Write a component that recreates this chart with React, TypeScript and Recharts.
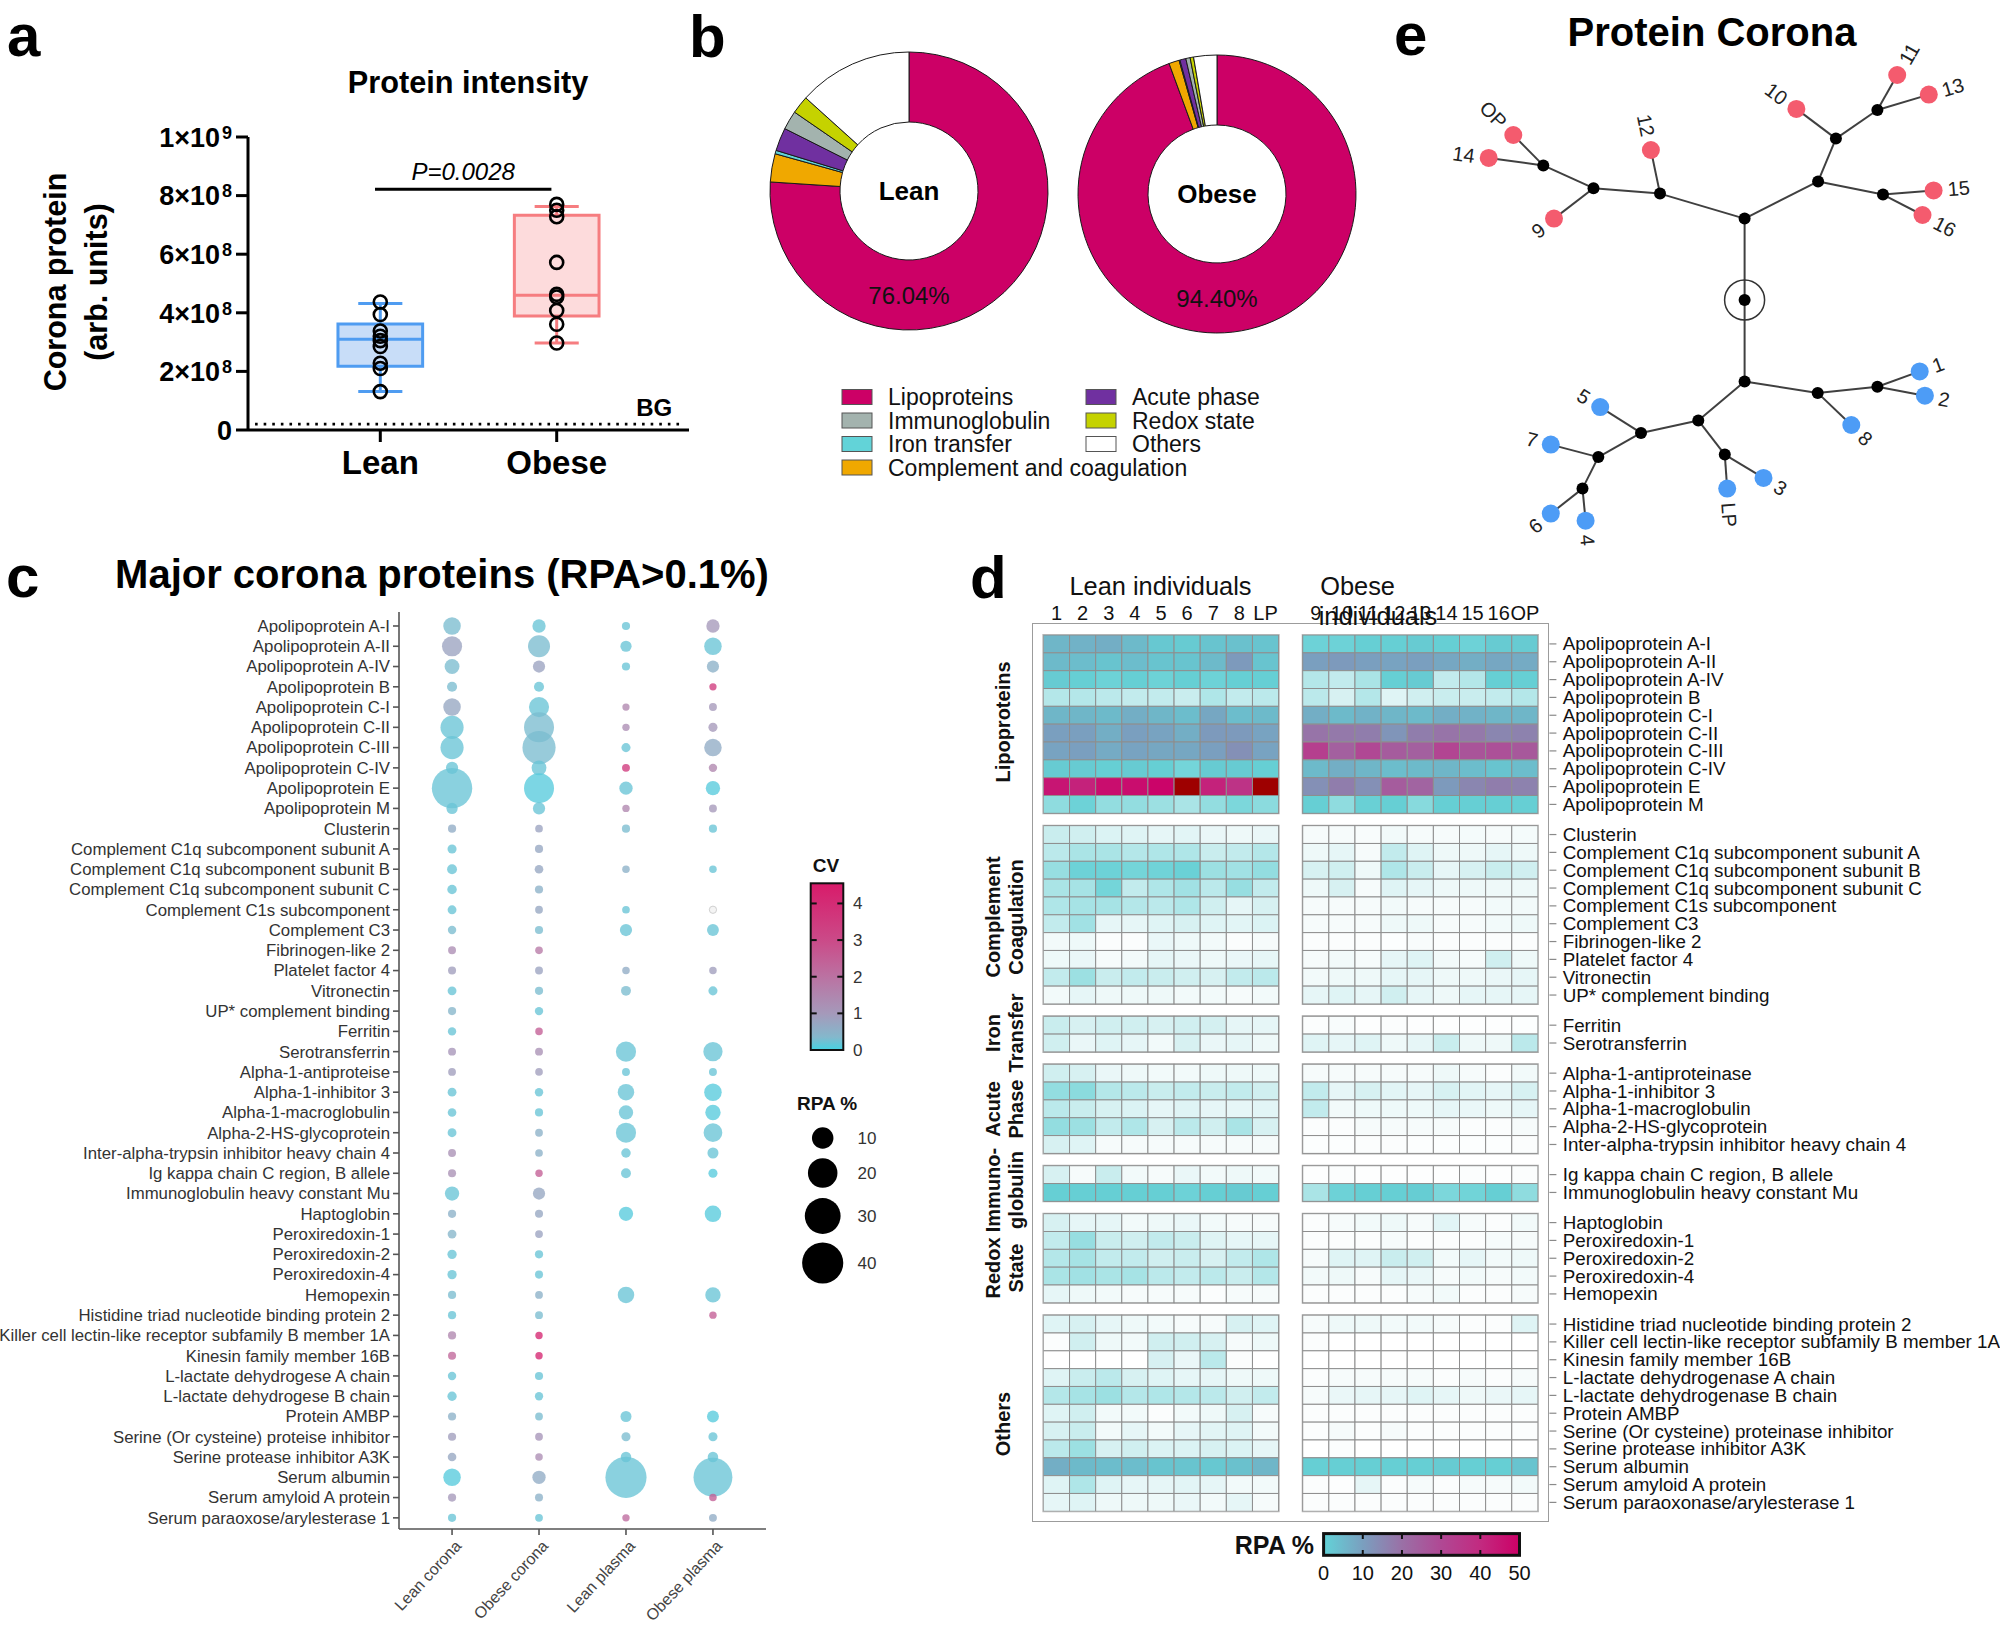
import React from "react";
import {
  ComposedChart,
  ScatterChart,
  Scatter,
  PieChart,
  Pie,
  Cell,
  Label,
  XAxis,
  YAxis,
  ZAxis,
  ReferenceArea,
  ReferenceLine,
  ReferenceDot,
} from "recharts";

const FONT = "'Liberation Sans', Arial, Helvetica, sans-serif";

// ---------- a: protein intensity (units of 1e8) ----------
const groups = ["Lean", "Obese"];
const leanIntensity = [4.37, 3.94, 3.38, 3.2, 3.05, 2.85, 2.28, 2.1, 1.31];
const obeseIntensity = [7.7, 7.5, 7.28, 5.72, 4.63, 4.54, 4.08, 3.61, 2.97];
const whiskerLow = [1.31, 2.97];
const quartileLow = [2.18, 3.89];
const medians = [3.1, 4.6];
const quartileHigh = [3.62, 7.33];
const whiskerHigh = [4.32, 7.63];
const intensityTicks = [0, 2, 4, 6, 8, 10];
const bracketLevel = 8.22;
const backgroundLevel = 0.2;
const pValueText = "P=0.0028";
const boxFills = ["#c8ddf8", "#fddbdc"];
const boxStrokes = ["#4f9cf1", "#f67d80"];

// ---------- b: protein classes ----------
const classes = ["Lipoproteins", "Complement and coagulation", "Iron transfer", "Acute phase", "Immunoglobulin", "Redox state", "Others"];
const classColors = ["#cc0066", "#f0a800", "#62d3d8", "#7030a0", "#a3b3ae", "#c5d200", "#ffffff"];
const leanShares = [76.04, 3.28, 0.4, 2.69, 2.19, 2.08, 13.32];
const obeseShares = [94.4, 1.2, 0.1, 0.7, 0.5, 0.4, 2.7];
const legendLeft = [0, 4, 2, 1];
const legendRight = [3, 5, 6];

// ---------- c: major corona proteins ----------
const proteinNames = [
  "Apolipoprotein A-I", "Apolipoprotein A-II", "Apolipoprotein A-IV", "Apolipoprotein B", "Apolipoprotein C-I",
  "Apolipoprotein C-II", "Apolipoprotein C-III", "Apolipoprotein C-IV", "Apolipoprotein E", "Apolipoprotein M",
  "Clusterin", "Complement C1q subcomponent subunit A", "Complement C1q subcomponent subunit B",
  "Complement C1q subcomponent subunit C", "Complement C1s subcomponent", "Complement C3", "Fibrinogen-like 2",
  "Platelet factor 4", "Vitronectin", "UP* complement binding", "Ferritin", "Serotransferrin", "Alpha-1-antiproteise",
  "Alpha-1-inhibitor 3", "Alpha-1-macroglobulin", "Alpha-2-HS-glycoprotein", "Inter-alpha-trypsin inhibitor heavy chain 4",
  "Ig kappa chain C region, B allele", "Immunoglobulin heavy constant Mu", "Haptoglobin", "Peroxiredoxin-1",
  "Peroxiredoxin-2", "Peroxiredoxin-4", "Hemopexin", "Histidine triad nucleotide binding protein 2",
  "Killer cell lectin-like receptor subfamily B member 1A", "Kinesin family member 16B", "L-lactate dehydrogese A chain",
  "L-lactate dehydrogese B chain", "Protein AMBP", "Serine (Or cysteine) proteise inhibitor", "Serine protease inhibitor A3K",
  "Serum albumin", "Serum amyloid A protein", "Serum paraoxose/arylesterase 1",
];
const sampleNames = ["Lean corona", "Obese corona", "Lean plasma", "Obese plasma"];
const rpaLeanCorona = [6.5, 9, 4.3, 1.3, 6.5, 12.3, 12.3, 2.5, 40, 1.9, 0.4, 0.8, 1.2, 1.0, 0.7, 0.5, 0.3, 0.35, 0.7, 0.4, 0.5, 0.3, 0.25, 0.7, 0.6, 0.7, 0.3, 0.35, 3.9, 0.4, 0.7, 0.9, 0.9, 0.4, 0.4, 0.4, 0.35, 0.5, 0.9, 0.4, 0.4, 0.6, 6.5, 0.4, 0.4];
const cvLeanCorona = [0.3, 0.8, 0.3, 0.3, 0.7, 0.2, 0.2, 0.2, 0.2, 0.2, 0.6, 0.2, 0.2, 0.2, 0.2, 0.3, 1.3, 0.9, 0.2, 0.4, 0.2, 1.1, 0.9, 0.2, 0.2, 0.2, 1.2, 1.2, 0.2, 0.5, 0.4, 0.2, 0.2, 0.3, 0.2, 1.5, 2.3, 0.2, 0.2, 0.5, 0.9, 0.7, 0.1, 1.0, 0.2];
const rpaObeseCorona = [3.2, 11, 2.5, 1.3, 9, 21.5, 26.6, 4.3, 21.5, 2.5, 0.2, 0.4, 0.6, 0.4, 0.25, 0.4, 0.2, 0.3, 0.4, 0.5, 0.15, 0.3, 0.2, 0.5, 0.4, 0.25, 0.2, 0.1, 2.5, 0.35, 0.25, 0.4, 0.35, 0.25, 0.3, 0.1, 0.1, 0.4, 0.45, 0.25, 0.25, 0.15, 3.2, 0.35, 0.25];
const cvObeseCorona = [0.2, 0.3, 0.8, 0.2, 0.2, 0.3, 0.3, 0.2, 0.1, 0.2, 0.8, 0.7, 0.7, 0.5, 0.7, 0.3, 1.8, 0.8, 0.3, 0.2, 2.5, 1.2, 0.9, 0.2, 0.2, 0.5, 0.5, 2.5, 0.7, 0.7, 0.8, 0.2, 0.2, 0.5, 0.3, 4.2, 4.2, 0.2, 0.2, 0.3, 1.1, 1.3, 0.6, 0.5, 0.2];
const rpaLeanPlasma = [0.4, 1.9, 0.4, null, 0.05, 0.1, 0.8, 0.3, 3.2, 0.1, 0.4, null, 0.15, null, 0.2, 2.5, null, 0.15, 1.2, null, null, 9, 0.3, 5.6, 3.9, 9, 1.0, 1.2, null, 3.9, null, null, null, 5.6, null, null, null, null, null, 1.8, 0.8, 1.5, 41.6, null, 0.1];
const cvLeanPlasma = [0.2, 0.2, 0.2, null, 1.5, 1.3, 0.2, 3.6, 0.2, 1.5, 0.3, null, 0.5, null, 0.2, 0.2, null, 0.6, 0.3, null, null, 0.2, 0.2, 0.2, 0.2, 0.2, 0.2, 0.2, null, 0.1, null, null, null, 0.2, null, null, null, null, null, 0.2, 0.3, 0.2, 0.2, null, 2.2];
const rpaObesePlasma = [3.2, 6.5, 2.5, 0.05, 0.3, 0.8, 6.5, 0.5, 3.9, 0.3, 0.4, null, 0.15, null, 0.05, 2.3, null, 0.15, 0.8, null, null, 8.1, 0.3, 6.5, 4.7, 7.6, 1.8, 0.8, null, 5.6, null, null, null, 4.7, 0.1, null, null, null, null, 2.3, 0.8, 1.5, 37, 0.15, 0.3];
const cvObesePlasma = [1.0, 0.2, 0.5, 3.5, 1.0, 1.0, 0.6, 1.5, 0.1, 1.0, 0.2, null, 0.2, null, null, 0.2, null, 0.9, 0.2, null, null, 0.2, 0.2, 0.1, 0.1, 0.2, 0.2, 0.1, null, 0.1, null, null, null, 0.2, 2.5, null, null, null, null, 0.1, 0.2, 0.2, 0.2, 2.5, 0.6];
const cvTicks = [0, 1, 2, 3, 4];
const rpaSizeTicks = [10, 20, 30, 40];
const cvStops: [number, string][] = [[0, "#45d3e3"], [0.35, "#84b8cc"], [1, "#a599ba"], [2, "#bb72a2"], [3, "#cb4a88"], [4.55, "#d81b6a"]];

// ---------- d: heatmap (9 lean columns then 9 obese columns) ----------
const leanColumns = ["1", "2", "3", "4", "5", "6", "7", "8", "LP"];
const obeseColumns = ["9", "10", "11", "12", "13", "14", "15", "16", "OP"];
const lipoNames = ["Apolipoprotein A-I", "Apolipoprotein A-II", "Apolipoprotein A-IV", "Apolipoprotein B", "Apolipoprotein C-I", "Apolipoprotein C-II", "Apolipoprotein C-III", "Apolipoprotein C-IV", "Apolipoprotein E", "Apolipoprotein M"];
const lipoRpa = [
  [7, 7.5, 8, 6.5, 4.5, 4, 5, 5.5, 5, 3, 3, 3.5, 3.5, 4, 3.5, 3, 4, 4],
  [6.5, 6, 5, 6, 5, 5, 6.5, 11, 5, 10, 11, 10, 9.5, 10, 9, 8, 9, 8.5],
  [4, 3.5, 3, 3.5, 3, 3.5, 3, 3.5, 3.5, 1, 0.8, 1.2, 3.5, 4, 0.8, 1, 3.5, 3.5],
  [1, 1, 0.9, 0.8, 0.8, 0.7, 1.1, 0.8, 0.9, 0.9, 0.5, 1, 0.4, 0.6, 0.7, 0.7, 0.8, 1],
  [7, 7, 6.5, 8, 7, 6, 9, 6, 6.5, 8, 6.5, 7.5, 7, 6.5, 8, 7.5, 7, 7],
  [10, 10, 8, 10, 9.5, 8, 11, 11, 9.5, 19, 18, 17, 12, 17, 19, 18, 15, 16],
  [9.5, 10, 8.5, 9.5, 9, 9, 10, 13, 9.5, 33, 24, 30, 25, 24, 31, 27, 28, 26],
  [4, 4, 3.5, 4, 3.5, 2.5, 4, 4, 3.5, 6.5, 8, 7, 6, 6.5, 7, 6, 5, 6],
  [45, 42, 47, 47, 49, 55, 42, 37, 55, 13, 17, 13, 25, 23, 11, 15, 17, 16],
  [1.8, 3, 1.7, 1.7, 1.5, 1.2, 1.7, 2.3, 1.9, 3.5, 1.8, 3.3, 3.5, 2, 3.5, 3.5, 3.5, 3.5],
];
const complementNames = ["Clusterin", "Complement C1q subcomponent subunit A", "Complement C1q subcomponent subunit B", "Complement C1q subcomponent subunit C", "Complement C1s subcomponent", "Complement C3", "Fibrinogen-like 2", "Platelet factor 4", "Vitronectin", "UP* complement binding"];
const complementRpa = [
  [0.7, 0.6, 0.45, 0.4, 0.3, 0.35, 0.25, 0.2, 0.25, 0.1, 0.1, 0.08, 0.15, 0.1, 0.1, 0.12, 0.1, 0.12],
  [0.9, 1.2, 1.2, 1.0, 1.1, 1.1, 0.7, 0.8, 1.0, 0.2, 0.3, 0.1, 0.8, 0.4, 0.2, 0.2, 0.3, 0.2],
  [1.6, 3, 3, 2.5, 2.8, 3.2, 1.5, 1.4, 1.7, 0.5, 0.6, 0.2, 1.1, 0.7, 0.3, 0.5, 0.7, 0.6],
  [1.2, 1.3, 2.5, 0.8, 1.1, 1.4, 0.9, 1.6, 0.8, 0.2, 0.5, 0.1, 0.4, 0.3, 0.2, 0.2, 0.2, 0.2],
  [1.1, 1.3, 1.3, 1.0, 0.9, 1.1, 0.6, 0.3, 0.5, 0.1, 0.1, 0.1, 0.15, 0.1, 0.1, 0.1, 0.15, 0.15],
  [0.8, 1.4, 0.3, 0.3, 0.4, 0.5, 0.4, 0.35, 0.45, 0.1, 0.1, 0.1, 0.2, 0.2, 0.1, 0.1, 0.15, 0.2],
  [0.15, 0.2, 0.05, 0.05, 0.25, 0.2, 0.15, 0.05, 0.1, 0.05, 0.05, 0.05, 0.03, 0.08, 0.05, 0.05, 0.05, 0.05],
  [0.2, 0.25, 0.1, 0.15, 0.3, 0.25, 0.2, 0.25, 0.3, 0.1, 0.15, 0.1, 0.3, 0.4, 0.15, 0.1, 0.6, 0.2],
  [0.8, 1.5, 0.7, 0.8, 0.7, 0.6, 0.5, 0.8, 0.9, 0.15, 0.2, 0.2, 0.3, 0.3, 0.2, 0.2, 0.25, 0.3],
  [0.15, 0.3, 0.2, 0.2, 0.2, 0.15, 0.15, 0.1, 0.15, 0.3, 0.4, 0.3, 0.6, 0.3, 0.2, 0.3, 0.3, 0.3],
];
const ironNames = ["Ferritin", "Serotransferrin"];
const ironRpa = [
  [0.7, 0.5, 0.6, 0.6, 0.5, 0.6, 0.55, 0.3, 0.3, 0.05, 0.08, 0.02, 0.05, 0.02, 0.02, 0.02, 0.02, 0.03],
  [0.6, 0.25, 0.4, 0.3, 0.15, 0.5, 0.25, 0.3, 0.2, 0.4, 0.3, 0.4, 0.2, 0.3, 0.7, 0.2, 0.2, 0.9],
];
const acuteNames = ["Alpha-1-antiproteinase", "Alpha-1-inhibitor 3", "Alpha-1-macroglobulin", "Alpha-2-HS-glycoprotein", "Inter-alpha-trypsin inhibitor heavy chain 4"];
const acuteRpa = [
  [0.6, 0.5, 0.25, 0.2, 0.15, 0.15, 0.2, 0.2, 0.2, 0.1, 0.1, 0.1, 0.1, 0.1, 0.2, 0.1, 0.05, 0.15],
  [1.7, 1.9, 1.0, 0.9, 0.7, 0.8, 0.7, 0.8, 0.6, 0.8, 0.3, 0.5, 0.35, 0.3, 0.5, 0.35, 0.3, 0.5],
  [0.9, 0.7, 0.5, 0.45, 0.3, 0.4, 0.3, 0.3, 0.35, 0.8, 0.15, 0.2, 0.2, 0.2, 0.3, 0.25, 0.2, 0.3],
  [1.7, 1.5, 0.8, 1.1, 0.5, 0.9, 0.6, 1.2, 0.5, 0.05, 0.05, 0.1, 0.1, 0.1, 0.1, 0.05, 0.05, 0.1],
  [0.5, 0.4, 0.1, 0.1, 0.1, 0.1, 0.1, 0.1, 0.1, 0.03, 0.03, 0.05, 0.05, 0.03, 0.03, 0.03, 0.03, 0.05],
];
const immunoNames = ["Ig kappa chain C region, B allele", "Immunoglobulin heavy constant Mu"];
const immunoRpa = [
  [0.5, 0.1, 0.7, 0.15, 0.1, 0.25, 0.15, 0.2, 0.15, 0.02, 0.05, 0.02, 0.02, 0.02, 0.02, 0.05, 0.02, 0.05],
  [3.5, 3.5, 3.5, 3.5, 3.5, 3, 3.5, 4, 3.5, 1.2, 3, 3.5, 3.5, 3.8, 2.3, 2.7, 3.5, 1.8],
];
const redoxNames = ["Haptoglobin", "Peroxiredoxin-1", "Peroxiredoxin-2", "Peroxiredoxin-4", "Hemopexin"];
const redoxRpa = [
  [0.5, 0.3, 0.3, 0.15, 0.2, 0.25, 0.15, 0.1, 0.1, 0.05, 0.1, 0.15, 0.2, 0.1, 0.35, 0.1, 0.05, 0.15],
  [0.8, 1.6, 0.7, 0.6, 0.8, 0.7, 0.4, 0.3, 0.3, 0.05, 0.05, 0.05, 0.1, 0.05, 0.05, 0.05, 0.1, 0.1],
  [1.0, 1.3, 0.8, 0.8, 0.6, 0.7, 0.5, 0.8, 1.1, 0.1, 0.4, 0.4, 0.7, 0.6, 0.15, 0.3, 0.15, 0.2],
  [1.2, 1.4, 1.2, 1.3, 0.9, 0.8, 0.9, 0.7, 1.0, 0.15, 0.2, 0.1, 0.3, 0.25, 0.1, 0.15, 0.1, 0.15],
  [0.3, 0.2, 0.15, 0.1, 0.1, 0.1, 0.05, 0.1, 0.1, 0.05, 0.05, 0.05, 0.05, 0.1, 0.15, 0.05, 0.05, 0.1],
];
const otherNames = ["Histidine triad nucleotide binding protein 2", "Killer cell lectin-like receptor subfamily B member 1A", "Kinesin family member 16B", "L-lactate dehydrogenase A chain", "L-lactate dehydrogenase B chain", "Protein AMBP", "Serine (Or cysteine) proteinase inhibitor", "Serine protease inhibitor A3K", "Serum albumin", "Serum amyloid A protein", "Serum paraoxonase/arylesterase 1"];
const otherRpa = [
  [0.4, 0.5, 0.3, 0.2, 0.15, 0.1, 0.1, 0.5, 0.4, 0.1, 0.2, 0.2, 0.15, 0.15, 0.1, 0.05, 0.05, 0.4],
  [0.05, 0.6, 0.2, 0.15, 0.6, 0.6, 0.5, 0.1, 0.2, 0.05, 0, 0, 0, 0, 0, 0, 0, 0],
  [0, 0, 0, 0, 0.5, 0.25, 0.9, 0.05, 0, 0, 0, 0, 0, 0, 0, 0, 0, 0],
  [0.4, 0.7, 0.9, 0.5, 0.4, 0.3, 0.3, 0.2, 0.2, 0.05, 0.1, 0.1, 0.1, 0.1, 0.05, 0.1, 0.05, 0.1],
  [1.0, 1.3, 1.5, 1.0, 1.1, 1.0, 0.9, 0.6, 0.8, 0.1, 0.25, 0.3, 0.3, 0.4, 0.3, 0.2, 0.25, 0.3],
  [0.4, 0.6, 0.15, 0.15, 0.05, 0.15, 0.2, 0.5, 0.1, 0.05, 0.05, 0.05, 0.05, 0.05, 0.05, 0.05, 0.05, 0.05],
  [0.5, 0.7, 0.15, 0.3, 0.15, 0.3, 0.35, 0.4, 0.15, 0.05, 0.1, 0.05, 0.1, 0.05, 0.05, 0.05, 0.05, 0.05],
  [0.9, 1.5, 0.5, 0.6, 0.45, 0.45, 0.5, 0.45, 0.3, 0, 0.05, 0, 0, 0, 0, 0, 0, 0],
  [8, 6.5, 6, 6, 5, 5, 4.5, 5.5, 7, 3.5, 3.5, 3.5, 3.5, 3.5, 4, 3.5, 3.5, 5],
  [0.4, 1.1, 0.4, 0.3, 0.3, 0.35, 0.3, 0.15, 0.15, 0.05, 0.02, 0.3, 0.05, 0.1, 0.05, 0.1, 0.1, 0.15],
  [0.3, 0.4, 0.2, 0.2, 0.2, 0.25, 0.15, 0.3, 0.1, 0.05, 0.05, 0.05, 0.05, 0.05, 0.05, 0.05, 0.05, 0.05],
];
const heatGroupTitles = [["Lipoproteins"], ["Complement", "Coagulation"], ["Iron", "Transfer"], ["Acute", "Phase"], ["Immuno-", "globulin"], ["Redox", "State"], ["Others"]];
const heatGroupCenters = [722, 917, 1033, 1109, 1190, 1268, 1424];
const heatScaleTicks = [0, 10, 20, 30, 40, 50];
const heatStops: [number, string][] = [
  [0, "#ffffff"], [0.1, "#f6fbfb"], [0.3, "#e6f6f7"], [0.6, "#d0eff0"], [1, "#b4e7e9"], [1.6, "#97dee1"],
  [2.5, "#74d5d9"], [3.5, "#66cfd4"], [5, "#68c4cf"], [7, "#6fb6c8"], [10, "#7a9fbf"], [15, "#8a86b0"],
  [20, "#9a70a6"], [30, "#b04894"], [40, "#c22a80"], [50, "#cc0066"],
];
const heatBarStops: [number, string][] = [[0, "#62d3d8"], [10, "#7a9fbf"], [20, "#9a70a6"], [30, "#b04894"], [40, "#c22a80"], [50, "#cc0066"]];

// ---------- e: tree (layout units) ----------
const innerNodes: [string, number, number, string | null][] = [
  ["R", 284.6, 240, null], ["T0", 284.6, 158.6, "R"], ["B0", 284.6, 321.4, "R"],
  ["TL1", 200, 133.6, "T0"], ["TL2", 133.5, 128.2, "TL1"], ["TL3", 83.3, 105.4, "TL2"],
  ["TR1", 358.1, 121.4, "T0"], ["TR2", 375.9, 78.6, "TR1"], ["TR3", 417.4, 50, "TR2"], ["TR4", 423, 134.6, "TR1"],
  ["BR1", 357.7, 332.9, "B0"], ["BR2", 417.4, 326.8, "BR1"],
  ["BL1", 238.3, 360.4, "B0"], ["BL2", 264.8, 394.6, "BL1"], ["BL3", 181, 372.9, "BL1"],
  ["BL4", 138.3, 397.1, "BL3"], ["BL5", 122.5, 428.6, "BL4"],
];
const leafNodes: [string, number, number, string, string][] = [
  ["OP", 53.3, 75, "TL3", "obese"], ["14", 28.7, 97.9, "TL3", "obese"], ["9", 94, 158.6, "TL2", "obese"],
  ["12", 190.9, 90, "TL1", "obese"], ["10", 336.4, 48.9, "TR2", "obese"], ["11", 437.2, 15, "TR3", "obese"],
  ["13", 468.8, 34.6, "TR3", "obese"], ["15", 473.6, 130.4, "TR4", "obese"], ["16", 462.5, 155, "TR4", "obese"],
  ["1", 459.7, 311.4, "BR2", "lean"], ["2", 464.9, 335.7, "BR2", "lean"], ["8", 391.3, 365, "BR1", "lean"],
  ["LP", 267.2, 428.6, "BL2", "lean"], ["3", 303.5, 417.9, "BL2", "lean"], ["5", 140.2, 347.1, "BL3", "lean"],
  ["7", 90.8, 384.6, "BL4", "lean"], ["6", 90.8, 453.6, "BL5", "lean"], ["4", 125.6, 460.7, "BL5", "lean"],
];
const leafColors: Record<string, string> = { lean: "#4d9cf6", obese: "#f45b6e" };

function hexToRgb(h: string) {
  return [parseInt(h.slice(1, 3), 16), parseInt(h.slice(3, 5), 16), parseInt(h.slice(5, 7), 16)];
}
function rampColor(stops: [number, string][], v: number) {
  if (v <= stops[0][0]) return stops[0][1];
  for (let i = 1; i < stops.length; i++) {
    if (v <= stops[i][0]) {
      const [a, ca] = stops[i - 1];
      const [b, cb] = stops[i];
      const t = (v - a) / (b - a);
      const x = hexToRgb(ca);
      const y = hexToRgb(cb);
      const m = x.map((c, k) => Math.round(c + (y[k] - c) * t));
      return `rgb(${m[0]},${m[1]},${m[2]})`;
    }
  }
  return stops[stops.length - 1][1];
}
const heatColor = (v: number) => (v > 50 ? "#9e0000" : rampColor(heatStops, v));

// ---------------- panel a ----------------
function IntensityTick({ x, y, payload }: any) {
  const v = payload.value;
  const common = { x, y, dy: "0.36em", textAnchor: "end" as const, fontSize: 27, fontWeight: 700, fill: "#000" };
  if (v === 0) return <text {...common}>0</text>;
  const big = v >= 10;
  return (
    <text {...common}>
      {`${big ? v / 10 : v}×10`}
      <tspan dy={-8} dx={2} fontSize={18}>{big ? 9 : 8}</tspan>
    </text>
  );
}

function PanelA() {
  const points = [
    ...leanIntensity.map((v) => ({ x: 1, y: v })),
    ...obeseIntensity.map((v) => ({ x: 2, y: v })),
  ];
  const axisStroke = { stroke: "#000", strokeWidth: 3 };
  return (
    <div style={{ position: "absolute", left: 0, top: 0 }}>
      <ComposedChart width={720} height={500} margin={{ top: 137, right: 31, bottom: 30, left: 128 }}>
        <XAxis
          type="number"
          dataKey="x"
          domain={[0.25, 2.75]}
          ticks={[1, 2]}
          interval={0}
          tickFormatter={(v) => groups[v - 1]}
          tickSize={12}
          tickMargin={9}
          height={40}
          axisLine={axisStroke}
          tickLine={axisStroke}
          tick={{ fontSize: 33, fontWeight: 700, fill: "#000" }}
          allowDataOverflow
        />
        <YAxis
          type="number"
          dataKey="y"
          domain={[0, 10]}
          ticks={intensityTicks}
          interval={0}
          tickSize={12}
          tickMargin={4}
          width={120}
          axisLine={axisStroke}
          tickLine={axisStroke}
          tick={<IntensityTick />}
          allowDataOverflow
        />
        {groups.map((g, i) => (
          <ReferenceArea
            key={`box-${g}`}
            x1={i + 1 - 0.24}
            x2={i + 1 + 0.24}
            y1={quartileLow[i]}
            y2={quartileHigh[i]}
            fill={boxFills[i]}
            fillOpacity={1}
            stroke={boxStrokes[i]}
            strokeWidth={3}
          />
        ))}
        {groups.map((g, i) => (
          <ReferenceLine key={`med-${g}`} segment={[{ x: i + 0.76, y: medians[i] }, { x: i + 1.24, y: medians[i] }]} stroke={boxStrokes[i]} strokeWidth={3} />
        ))}
        {groups.map((g, i) => (
          <ReferenceLine key={`wh-${g}`} segment={[{ x: i + 1, y: quartileHigh[i] }, { x: i + 1, y: whiskerHigh[i] }]} stroke={boxStrokes[i]} strokeWidth={3} />
        ))}
        {groups.map((g, i) => (
          <ReferenceLine key={`wl-${g}`} segment={[{ x: i + 1, y: whiskerLow[i] }, { x: i + 1, y: quartileLow[i] }]} stroke={boxStrokes[i]} strokeWidth={3} />
        ))}
        {groups.map((g, i) => (
          <ReferenceLine key={`ch-${g}`} segment={[{ x: i + 0.875, y: whiskerHigh[i] }, { x: i + 1.125, y: whiskerHigh[i] }]} stroke={boxStrokes[i]} strokeWidth={3} />
        ))}
        {groups.map((g, i) => (
          <ReferenceLine key={`cl-${g}`} segment={[{ x: i + 0.875, y: whiskerLow[i] }, { x: i + 1.125, y: whiskerLow[i] }]} stroke={boxStrokes[i]} strokeWidth={3} />
        ))}
        <ReferenceLine
          segment={[{ x: 0.97, y: bracketLevel }, { x: 1.97, y: bracketLevel }]}
          stroke="#000"
          strokeWidth={3}
          label={{ value: pValueText, position: "top", offset: 9, fontSize: 24, fontStyle: "italic", fill: "#000" }}
        />
        <ReferenceLine
          segment={[{ x: 0.29, y: backgroundLevel }, { x: 2.7, y: backgroundLevel }]}
          stroke="#000"
          strokeWidth={2.6}
          strokeDasharray="2.6 6"
          label={{ value: "BG", position: "insideBottomRight", offset: 8, fontSize: 24, fontWeight: 700, fill: "#000" }}
        />
        <Scatter
          data={points}
          isAnimationActive={false}
          shape={(p: any) => <circle cx={p.cx} cy={p.cy} r={6.5} fill="none" stroke="#000" strokeWidth={2.6} />}
        />
      </ComposedChart>
    </div>
  );
}

// ---------------- panel b ----------------
function Donut({ shares, name, left, top }: { shares: number[]; name: string; left: number; top: number }) {
  const data = classes.map((c, i) => ({ name: c, value: shares[i] }));
  const pct = `${shares[0].toFixed(2)}%`;
  return (
    <div style={{ position: "absolute", left, top }}>
      <PieChart width={300} height={300} margin={{ top: 0, right: 0, bottom: 0, left: 0 }}>
        <Pie
          data={data}
          dataKey="value"
          cx={150}
          cy={150}
          innerRadius={69}
          outerRadius={139}
          startAngle={90}
          endAngle={-270}
          stroke="#1a1a1a"
          strokeWidth={1}
          isAnimationActive={false}
          labelLine={false}
          label={(p: any) =>
            p.index === 0 ? (
              <text x={p.cx} y={p.cy + (p.innerRadius + p.outerRadius) / 2} textAnchor="middle" dominantBaseline="central" fontSize={24} fill="#111">
                {pct}
              </text>
            ) : null
          }
        >
          {data.map((d, i) => (
            <Cell key={d.name} fill={classColors[i]} />
          ))}
          <Label value={name} position="center" fontSize={26} fontWeight={700} fill="#000" />
        </Pie>
      </PieChart>
    </div>
  );
}

// ---------------- panel c ----------------
function ProteinTick({ x, y, payload }: any) {
  return (
    <text x={x} y={y} dy="0.35em" textAnchor="end" fontSize={16.8} fill="#333">
      {proteinNames[payload.value]}
    </text>
  );
}
function SampleTick({ x, y, payload }: any) {
  const tx = x + 2;
  const ty = y + 2;
  return (
    <text x={tx} y={ty} dy="0.7em" transform={`rotate(-47 ${tx} ${ty})`} textAnchor="end" fontSize={16} fill="#444">
      {sampleNames[payload.value - 1]}
    </text>
  );
}

const bubbleColumns: [(number | null)[], (number | null)[]][] = [
  [rpaLeanCorona, cvLeanCorona],
  [rpaObeseCorona, cvObeseCorona],
  [rpaLeanPlasma, cvLeanPlasma],
  [rpaObesePlasma, cvObesePlasma],
];
const bubblePoints = bubbleColumns.flatMap(([rpa, cv], c) =>
  rpa.map((z, r) => (z == null ? null : { x: c + 1, y: r, z, cv: cv[r] })).filter(Boolean)
) as { x: number; y: number; z: number; cv: number | null }[];

const Z_RANGE: [number, number] = [40, 1330];
const bubbleRadius = (v: number) => Math.sqrt((Z_RANGE[0] + ((Z_RANGE[1] - Z_RANGE[0]) * v) / 40) / Math.PI);

function PanelC() {
  const axisStyle = { stroke: "#555", strokeWidth: 1.6 };
  return (
    <div style={{ position: "absolute", left: 0, top: 540 }}>
      <ScatterChart width={780} height={1086} margin={{ top: 72, right: 14, bottom: 7, left: 9 }}>
        <XAxis
          type="number"
          dataKey="x"
          domain={[0.39, 4.61]}
          ticks={[1, 2, 3, 4]}
          interval={0}
          height={90}
          tickSize={6}
          tickMargin={2}
          axisLine={axisStyle}
          tickLine={axisStyle}
          tick={<SampleTick />}
          allowDataOverflow
        />
        <YAxis
          type="number"
          dataKey="y"
          reversed
          domain={[-0.69, 44.55]}
          ticks={proteinNames.map((_, i) => i)}
          interval={0}
          width={390}
          tickSize={6}
          tickMargin={3}
          axisLine={axisStyle}
          tickLine={axisStyle}
          tick={<ProteinTick />}
          allowDataOverflow
        />
        <ZAxis type="number" dataKey="z" domain={[0, 40]} range={Z_RANGE} />
        <Scatter data={bubblePoints} isAnimationActive={false}>
          {bubblePoints.map((p, i) => (
            <Cell
              key={i}
              fill={p.cv == null ? "#f4f4f4" : rampColor(cvStops, p.cv)}
              fillOpacity={p.cv == null ? 1 : 0.78}
              stroke={p.cv == null ? "#d0d0d0" : "none"}
            />
          ))}
        </Scatter>
      </ScatterChart>
    </div>
  );
}

// ---------------- panel d ----------------
const GAP_COLS = 0.923;
const BLOCK_GAP = 0.69;
const HEAT_PLOT_W = 494.5;
const HEAT_PLOT_H = 876.3;
const X_SPAN = 18 + GAP_COLS;
const heatGroups = [
  { names: lipoNames, rows: lipoRpa },
  { names: complementNames, rows: complementRpa },
  { names: ironNames, rows: ironRpa },
  { names: acuteNames, rows: acuteRpa },
  { names: immunoNames, rows: immunoRpa },
  { names: redoxNames, rows: redoxRpa },
  { names: otherNames, rows: otherRpa },
];
const heatCells: { x: number; y: number; v: number }[] = [];
const heatRowTicks: number[] = [];
const heatRowNames: string[] = [];
const heatBlocks: [number, number][] = [];
let rowOffset = 0;
heatGroups.forEach((g, gi) => {
  const start = rowOffset;
  g.rows.forEach((row, ri) => {
    const yc = rowOffset + 0.5;
    heatRowTicks.push(yc);
    heatRowNames.push(g.names[ri]);
    row.forEach((v, ci) => heatCells.push({ x: ci + (ci >= 9 ? GAP_COLS : 0) + 0.5, y: yc, v }));
    rowOffset += 1;
  });
  heatBlocks.push([start, rowOffset]);
  if (gi < heatGroups.length - 1) rowOffset += BLOCK_GAP;
});
const Y_SPAN = rowOffset;
const CELL_W = HEAT_PLOT_W / X_SPAN;
const CELL_H = HEAT_PLOT_H / Y_SPAN;
const columnLabels = [...leanColumns, ...obeseColumns];
const columnTicks = columnLabels.map((_, ci) => ci + (ci >= 9 ? GAP_COLS : 0) + 0.5);

function ColumnTick({ x, y, payload }: any) {
  const idx = columnTicks.findIndex((t) => Math.abs(t - payload.value) < 1e-6);
  return (
    <text x={x} y={y} textAnchor="middle" fontSize={20} fill="#111">
      {columnLabels[idx]}
    </text>
  );
}
function RowTick({ x, y, payload }: any) {
  const idx = heatRowTicks.findIndex((t) => Math.abs(t - payload.value) < 1e-6);
  return (
    <g>
      <line x1={x + 11.5} x2={x + 18.5} y1={y} y2={y} stroke="#8a8a8a" strokeWidth={1.2} />
      <text x={x + 24.8} y={y} dy="0.35em" textAnchor="start" fontSize={18.8} fill="#111">
        {heatRowNames[idx]}
      </text>
    </g>
  );
}

function PanelD() {
  return (
    <div style={{ position: "absolute", left: 1000, top: 560 }}>
      <div style={{ position: "absolute", left: 32, top: 63.3, width: 517.4, height: 898.7, border: "1.5px solid #9c9c9c", boxSizing: "border-box" }} />
      <ScatterChart width={1000} height={1000} margin={{ top: 45, right: 12.1, bottom: 48.7, left: 43.4 }}>
        <XAxis
          type="number"
          dataKey="x"
          orientation="top"
          domain={[0, X_SPAN]}
          ticks={columnTicks}
          interval={0}
          height={30}
          tickSize={0}
          tickMargin={15}
          axisLine={false}
          tickLine={false}
          tick={<ColumnTick />}
          allowDataOverflow
        />
        <YAxis
          type="number"
          dataKey="y"
          orientation="right"
          reversed
          domain={[0, Y_SPAN]}
          ticks={heatRowTicks}
          interval={0}
          width={450}
          tickSize={0}
          tickMargin={0}
          axisLine={false}
          tickLine={false}
          tick={<RowTick />}
          allowDataOverflow
        />
        <Scatter
          data={heatCells}
          isAnimationActive={false}
          shape={(p: any) => (
            <rect
              x={p.cx - CELL_W / 2}
              y={p.cy - CELL_H / 2}
              width={CELL_W}
              height={CELL_H}
              fill={heatColor(p.payload.v)}
              stroke="#8e8e8e"
              strokeWidth={1}
            />
          )}
        />
        {heatBlocks.map(([a, b], i) => (
          <ReferenceArea key={`bl-${i}`} x1={0} x2={9} y1={a} y2={b} fill="none" stroke="#b4b4b4" strokeWidth={2} />
        ))}
        {heatBlocks.map(([a, b], i) => (
          <ReferenceArea key={`bo-${i}`} x1={9 + GAP_COLS} x2={X_SPAN} y1={a} y2={b} fill="none" stroke="#b4b4b4" strokeWidth={2} />
        ))}
      </ScatterChart>
    </div>
  );
}

// ---------------- panel e ----------------
const nodeIndex: Record<string, [number, number]> = {};
innerNodes.forEach(([id, x, y]) => (nodeIndex[id] = [x, y]));
const innerPoints = innerNodes.map(([id, x, y]) => ({ id, x, y }));
const leafPoints = leafNodes.map(([label, x, y, parent, group]) => ({
  label,
  x,
  y,
  px: nodeIndex[parent][0],
  py: nodeIndex[parent][1],
  group,
}));
const treeEdges = [
  ...innerNodes.filter((n) => n[3]).map(([, x, y, p]) => [x, y, nodeIndex[p as string][0], nodeIndex[p as string][1]]),
  ...leafNodes.map(([, x, y, p]) => [x, y, nodeIndex[p][0], nodeIndex[p][1]]),
];

function LeafShape(props: any) {
  const { cx, cy, payload } = props;
  const ang = Math.atan2(payload.y - payload.py, payload.x - payload.px);
  const deg = (ang * 180) / Math.PI;
  const flip = deg > 90 || deg < -90;
  const lx = cx + Math.cos(ang) * 14;
  const ly = cy + Math.sin(ang) * 14;
  const rot = flip ? deg + 180 : deg;
  return (
    <g>
      <circle cx={cx} cy={cy} r={9} fill={leafColors[payload.group]} />
      <text
        x={lx}
        y={ly}
        dy="0.35em"
        transform={`rotate(${rot} ${lx} ${ly})`}
        textAnchor={flip ? "end" : "start"}
        fontSize={20}
        fill="#222"
      >
        {payload.label}
      </text>
    </g>
  );
}

function PanelE() {
  return (
    <div style={{ position: "absolute", left: 1440, top: 40 }}>
      <ScatterChart width={540} height={510} margin={{ top: 0, right: 0, bottom: 0, left: 0 }}>
        <XAxis type="number" dataKey="x" domain={[-20, 520]} hide allowDataOverflow />
        <YAxis type="number" dataKey="y" domain={[-20, 490]} reversed hide allowDataOverflow />
        {treeEdges.map(([x1, y1, x2, y2], i) => (
          <ReferenceLine key={`e-${i}`} segment={[{ x: x1, y: y1 }, { x: x2, y: y2 }]} stroke="#404040" strokeWidth={2} />
        ))}
        <ReferenceDot x={innerNodes[0][1]} y={innerNodes[0][2]} r={20} fill="none" stroke="#333" strokeWidth={1.5} />
        <Scatter
          data={innerPoints}
          isAnimationActive={false}
          shape={(p: any) => <circle cx={p.cx} cy={p.cy} r={6} fill="#000" />}
        />
        <Scatter data={leafPoints} isAnimationActive={false} shape={<LeafShape />} />
      </ScatterChart>
    </div>
  );
}

// ---------------- texts, legends, colour bars ----------------
function Overlay() {
  const cvTop = 883.3;
  const cvBottom = 1050;
  const cvMax = 4.55;
  const cvY = (v: number) => cvBottom - ((cvBottom - cvTop) * v) / cvMax;
  const barL = 1323.6;
  const barR = 1519.5;
  const barX = (v: number) => barL + ((barR - barL) * v) / 50;
  const rpaLegendY = [1138, 1173, 1216, 1263];
  const legendRows = [397, 420.5, 444, 467.5];
  const panelLetter = { fontSize: 60, fontWeight: 700, fill: "#000" };
  return (
    <svg width={2000} height={1626} style={{ position: "absolute", left: 0, top: 0, pointerEvents: "none" }} fontFamily={FONT}>
      <defs>
        <linearGradient id="cvGrad" x1="0" y1="1" x2="0" y2="0">
          {cvStops.map(([v, c]) => (
            <stop key={v} offset={v / cvMax} stopColor={c} />
          ))}
        </linearGradient>
        <linearGradient id="rpaGrad" x1="0" y1="0" x2="1" y2="0">
          {heatBarStops.map(([v, c]) => (
            <stop key={v} offset={v / 50} stopColor={c} />
          ))}
        </linearGradient>
      </defs>

      <text x={7} y={56} {...panelLetter}>a</text>
      <text x={689} y={57} {...panelLetter}>b</text>
      <text x={6} y={597} {...panelLetter}>c</text>
      <text x={970} y={598} {...panelLetter}>d</text>
      <text x={1394} y={55} {...panelLetter}>e</text>

      {/* a */}
      <text x={468} y={93} textAnchor="middle" fontSize={30.7} fontWeight={700}>Protein intensity</text>
      <text x={55} y={282} dy="0.35em" textAnchor="middle" fontSize={30.5} fontWeight={700} transform="rotate(-90 55 282)">Corona protein</text>
      <text x={96} y={282} dy="0.35em" textAnchor="middle" fontSize={30.5} fontWeight={700} transform="rotate(-90 96 282)">(arb. units)</text>

      {/* b legend */}
      {legendLeft.map((ci, r) => (
        <g key={`ll-${ci}`}>
          <rect x={842} y={legendRows[r] - 7.5} width={30} height={15} fill={classColors[ci]} stroke="#555" strokeWidth={1} />
          <text x={888} y={legendRows[r]} dy="0.35em" fontSize={23} fill="#111">{classes[ci]}</text>
        </g>
      ))}
      {legendRight.map((ci, r) => (
        <g key={`lr-${ci}`}>
          <rect x={1086} y={legendRows[r] - 7.5} width={30} height={15} fill={classColors[ci]} stroke="#555" strokeWidth={1} />
          <text x={1132} y={legendRows[r]} dy="0.35em" fontSize={23} fill="#111">{classes[ci]}</text>
        </g>
      ))}

      {/* c */}
      <text x={442} y={588} textAnchor="middle" fontSize={40} fontWeight={700}>Major corona proteins (RPA&gt;0.1%)</text>
      <text x={826} y={872} textAnchor="middle" fontSize={19} fontWeight={700} fill="#111">CV</text>
      <rect x={810.7} y={cvTop} width={32.6} height={cvBottom - cvTop} fill="url(#cvGrad)" stroke="#111" strokeWidth={2} />
      {cvTicks.map((v) => (
        <g key={`cv-${v}`}>
          {v > 0 && <line x1={810.7} x2={816.7} y1={cvY(v)} y2={cvY(v)} stroke="#111" strokeWidth={2} />}
          {v > 0 && <line x1={837.3} x2={843.3} y1={cvY(v)} y2={cvY(v)} stroke="#111" strokeWidth={2} />}
          <text x={853} y={cvY(v)} dy="0.35em" fontSize={17} fill="#333">{v}</text>
        </g>
      ))}
      <text x={797} y={1110} fontSize={19} fontWeight={700} fill="#111">RPA %</text>
      {rpaSizeTicks.map((v, i) => (
        <g key={`rs-${v}`}>
          <circle cx={822.7} cy={rpaLegendY[i]} r={bubbleRadius(v)} fill="#000" />
          <text x={867} y={rpaLegendY[i]} dy="0.35em" textAnchor="middle" fontSize={17} fill="#333">{v}</text>
        </g>
      ))}

      {/* d */}
      <text x={1160.5} y={595} textAnchor="middle" fontSize={25.4} fill="#111">Lean individuals</text>
      <text x={1357.6} y={595} textAnchor="middle" fontSize={25.4} fill="#111">Obese</text>
      <text x={1378} y={625} textAnchor="middle" fontSize={25.4} fill="#111">individuals</text>
      {heatGroupTitles.map((lines, gi) => {
        const cy = heatGroupCenters[gi];
        const xs = lines.length === 1 ? [1003] : [992.5, 1015.5];
        return lines.map((t, li) => (
          <text key={`g-${gi}-${li}`} x={xs[li]} y={cy} dy="0.35em" textAnchor="middle" fontSize={20} fontWeight={700} fill="#111" transform={`rotate(-90 ${xs[li]} ${cy})`}>
            {t}
          </text>
        ));
      })}
      <text x={1314} y={1554} textAnchor="end" fontSize={25} fontWeight={700} fill="#111">RPA %</text>
      <rect x={barL} y={1533.6} width={barR - barL} height={21.7} fill="url(#rpaGrad)" stroke="#111" strokeWidth={3} />
      {heatScaleTicks.map((v) => (
        <g key={`hs-${v}`}>
          {v > 0 && v < 50 && <line x1={barX(v)} x2={barX(v)} y1={1533.6} y2={1539} stroke="#111" strokeWidth={2} />}
          {v > 0 && v < 50 && <line x1={barX(v)} x2={barX(v)} y1={1550} y2={1555.3} stroke="#111" strokeWidth={2} />}
          <text x={barX(v)} y={1580} textAnchor="middle" fontSize={20} fill="#111">{v}</text>
        </g>
      ))}

      {/* e */}
      <text x={1712} y={46} textAnchor="middle" fontSize={40} fontWeight={700}>Protein Corona</text>
    </svg>
  );
}

export default function App() {
  return (
    <div style={{ position: "relative", width: 2000, height: 1626, background: "#fff", fontFamily: FONT, overflow: "hidden" }}>
      <style>{"body{margin:0;background:#fff}"}</style>
      <PanelA />
      <Donut shares={leanShares} name="Lean" left={759} top={41} />
      <Donut shares={obeseShares} name="Obese" left={1067} top={44} />
      <PanelC />
      <PanelD />
      <PanelE />
      <Overlay />
    </div>
  );
}
